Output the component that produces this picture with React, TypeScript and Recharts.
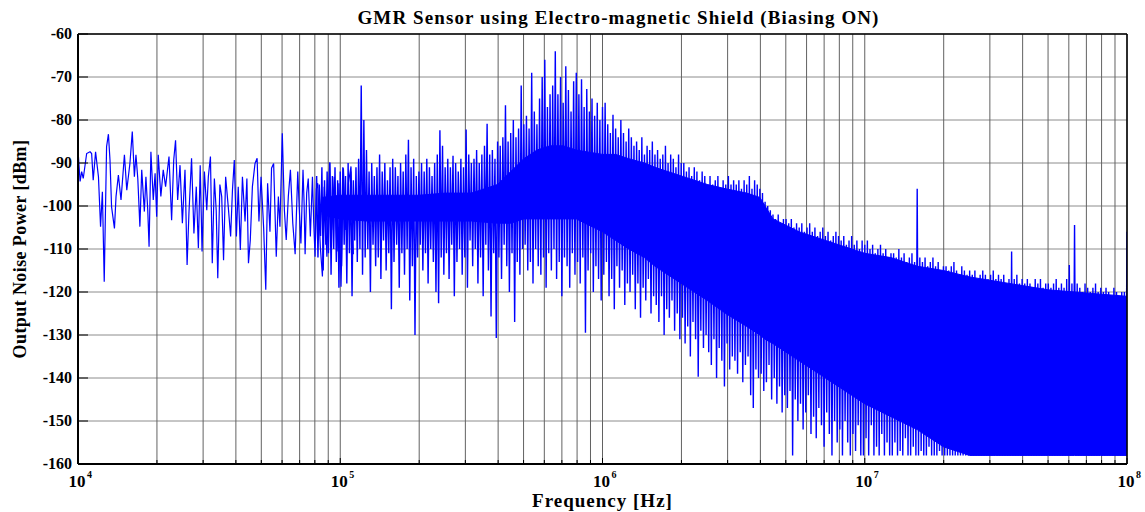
import { Area, CartesianGrid, ComposedChart, Label, Line, XAxis, YAxis } from 'recharts'

// x values are log10(frequency in Hz); the axis prints them as 10^n
const LOW_DECADE = [
  4.0, 4.008, 4.014, 4.02, 4.033, 4.046, 4.052, 4.058, 4.067, 4.078, 4.086, 4.093, 4.1, 4.109, 4.116, 4.122,
  4.128, 4.139, 4.145, 4.154, 4.164, 4.177, 4.186, 4.192, 4.198, 4.207, 4.215, 4.221, 4.228, 4.236, 4.243,
  4.253, 4.259, 4.266, 4.271, 4.278, 4.287, 4.294, 4.3, 4.306, 4.316, 4.325, 4.334, 4.347, 4.357, 4.365,
  4.372, 4.38, 4.389, 4.398, 4.408, 4.416, 4.423, 4.433, 4.442, 4.451, 4.459, 4.466, 4.473, 4.482, 4.491,
  4.497, 4.505, 4.512, 4.52, 4.527, 4.533, 4.541, 4.548, 4.555, 4.563, 4.573, 4.582, 4.589, 4.596, 4.604,
  4.611, 4.619, 4.627, 4.637, 4.644, 4.65, 4.657, 4.665, 4.675, 4.683, 4.69, 4.698, 4.708, 4.716, 4.723,
  4.732, 4.738, 4.746, 4.756, 4.764, 4.77, 4.779, 4.787, 4.794, 4.802, 4.81, 4.819, 4.828, 4.838, 4.844,
  4.85, 4.858, 4.862, 4.866, 4.872, 4.878, 4.886, 4.894, 4.899, 4.904, 4.909, 4.914, 4.919, 4.924, 4.932,
  4.939, 4.944, 4.949, 4.955, 4.96, 4.967, 4.977, 4.988, 4.995, 5.003, 5.012, 5.021, 5.031, 5.041, 5.05,
]
const LOW_DBM = [
  -87, -94.3, -92, -93.6, -87.8, -87.4, -87.8, -94, -87.4, -93.2, -104.8, -96.7, -117.6, -86.2, -83.3, -89.3,
  -100.2, -105.2, -97.8, -92.8, -98.6, -88.1, -96.3, -93.2, -90.1, -82.7, -93.2, -88.1, -93.6, -104.8, -91.6,
  -101.3, -93.2, -101, -109.5, -87.4, -98.6, -92.4, -102.5, -88.1, -97.8, -91.6, -95.5, -88.5, -103.3, -89.3,
  -84.7, -98.6, -90.5, -104, -91.6, -113.7, -101.7, -88.9, -106.4, -95.5, -109.8, -90.5, -110.6, -92, -101,
  -93.2, -88.5, -113.3, -93.6, -101, -116.8, -95, -97.8, -112.6, -93.2, -100.2, -107.1, -96.3, -89.3, -107.1,
  -95.5, -110.2, -93.2, -103.6, -93.6, -113.3, -107.9, -95.5, -90.1, -88.9, -103.6, -93.2, -105.2, -119.5, -94.7,
  -106, -91.2, -90.1, -111.8, -97.8, -104.8, -83.1, -101, -107.9, -97.8, -91.6, -104, -111.2, -92, -101,
  -108.7, -91.6, -99, -111.2, -97, -93.6, -107.1, -93.2, -104, -111.8, -96, -94.7, -102, -109.5, -116.4,
  -95.5, -103, -111.8, -98, -89.9, -105.6, -93.2, -110.6, -94.7, -118.8, -91.2, -105.6, -94.7, -90.8, -111.2,
]

// solid part of the dense spectrum
const CORE_DECADE = [
  4.93, 5.0, 5.1, 5.2, 5.3, 5.4, 5.5, 5.6, 5.65, 5.7, 5.75, 5.8, 5.85, 5.9, 6.0, 6.05, 6.1, 6.16, 6.2, 6.3,
  6.4, 6.47, 6.55, 6.6, 6.62, 6.65, 6.75, 6.85, 6.95, 7.0, 7.1, 7.2, 7.3, 7.4, 7.5, 7.6, 7.7, 7.8, 7.9, 8.0,
]
const CORE_TOP = [
  -98, -97.5, -97.5, -97.5, -97.5, -97, -97, -95, -92, -89, -87, -86, -86, -87, -88, -88, -89, -90, -91, -93,
  -95, -96, -97, -98, -100, -103, -106, -108, -110, -111, -112, -114, -115, -116.5, -117.5, -118.5, -119.5, -120, -120.5, -121,
]
const CORE_BOTTOM = [
  -102, -103, -103.5, -103.5, -103.5, -103.5, -103.5, -104, -104, -103, -103, -103, -103, -103, -106, -108, -110, -112, -114, -118,
  -122, -125, -128, -130, -131, -132, -136, -140, -144, -146, -149, -152, -156, -158, -158, -158, -158, -158, -158, -158,
]

// max / min of each 0.01-decade bin, 10^4.91 .. 10^8 (one row = 0.1 decade)
const NOISE_START = 4.91
const NOISE_STEP = 0.01
const NOISE_HIGH = [
  -93, -95, -91, -94, -92, -89.9, -93, -91, -94, -92,
  -91, -93, -90, -92, -94, -91, -89, -72, -80, -87,
  -92, -90, -93, -91, -88, -92, -90, -94, -91, -89,
  -91, -93, -90, -92, -88, -84.6, -91, -89, -93, -92,
  -90, -92, -89, -91, -93, -90, -88, -82.4, -86, -91,
  -89, -91, -88.3, -90, -92, -89, -91, -82.2, -88, -90,
  -89, -87, -90, -88, -86, -80.9, -88, -87, -89, -85,
  -86, -84, -76.6, -85, -83, -80, -84, -82, -72, -81,
  -79, -82, -69, -78, -81, -75, -70, -66, -77, -74,
  -72, -64, -74, -70, -76, -67.5, -73, -78, -71, -69,
  -74, -70.5, -77, -72.8, -78, -75, -79, -76, -80, -77,
  -76, -81, -83, -78.8, -82, -84, -80, -83, -85, -82,
  -84, -86, -85, -87, -84, -88, -86, -87, -85, -88,
  -87, -89, -88, -86, -90, -88, -89, -91, -88, -90,
  -90, -92, -91, -93, -91, -92, -94, -92, -93, -95,
  -93, -95, -94, -93, -96, -94, -95, -93, -95, -94,
  -95, -94, -96, -94, -95, -93, -96, -94, -95, -96,
  -97, -99, -100, -101, -102, -103, -102, -104, -103, -103,
  -104, -103, -105, -104, -105, -104, -106, -105, -104, -106,
  -105, -107, -106, -105, -107, -106, -108, -107, -106, -107,
  -108, -107, -109, -108, -107, -109, -108, -110, -108, -109,
  -108, -110, -109, -111, -110, -109, -111, -110, -112, -111,
  -111, -112, -110, -112, -111, -113, -112, -111, -113, -96,
  -112, -113, -112, -114, -113, -112, -114, -113, -115, -114,
  -114, -115, -114, -113, -115, -116, -114, -115, -116, -115,
  -116, -115, -117, -116, -115, -116, -117, -116, -115, -117,
  -116, -117, -116, -118, -117, -110.6, -117, -116, -118, -117,
  -118, -117, -118, -119, -117, -118, -117, -119, -118, -118,
  -119, -118, -117, -119, -118, -119, -117, -113.7, -118, -104.4,
  -118, -119, -120, -118, -119, -120, -119, -118, -120, -119,
  -120, -119, -120, -121, -119, -120, -121, -120, -120, -106,
]
const NOISE_LOW = [
  -108, -112, -107, -115, -109, -111, -116, -110, -113, -119,
  -114, -109, -118, -111, -121, -108, -113, -110, -116, -112,
  -110, -120, -109, -114, -112, -117, -108, -115, -111, -124,
  -113, -109, -119, -111, -116, -110, -122, -114, -130, -112,
  -109, -115, -111, -118, -110, -113, -120, -122.6, -112, -116,
  -111, -117, -109, -121, -113, -110, -116, -112, -119, -108,
  -114, -110, -118, -112, -121, -109, -115, -125.7, -111, -130.7,
  -112, -117, -109, -114, -120, -111, -127, -113, -116, -110,
  -109, -115, -113, -118, -110, -114, -116, -112, -119, -111,
  -115, -110, -117, -113, -121, -112, -114, -119, -111, -116,
  -113, -118, -112, -129.5, -115, -111, -120, -114, -117, -122,
  -116, -113, -121, -117, -124, -114, -119, -115, -123, -118,
  -120, -116, -124, -118, -126, -119, -122, -117, -125, -121,
  -123, -127, -121, -130, -124, -126, -122, -129, -125, -131,
  -126, -132, -128, -135, -127, -131, -139.7, -129, -133, -130,
  -134, -137, -131, -140, -133, -136, -142, -132, -138, -135,
  -136, -139, -134, -141, -137, -135, -144, -147, -138, -140,
  -139, -143, -141, -137, -145, -140, -146, -142, -148, -144,
  -147, -143, -158, -145, -150, -146, -152, -148, -144, -153,
  -149, -154, -147, -151, -156, -148, -153, -158, -150, -155,
  -152, -158, -150, -155, -158, -153, -157, -151, -158, -158,
  -154, -158, -151, -158, -156, -158, -153, -158, -155, -158,
  -158, -155, -158, -157, -158, -154, -158, -158, -156, -158,
  -158, -157, -158, -158, -156, -158, -158, -158, -157, -158,
  -158, -158, -158, -158, -158, -158, -158, -158, -158, -158,
  -158, -158, -158, -158, -158, -158, -158, -158, -158, -158,
  -158, -158, -158, -158, -158, -158, -158, -158, -158, -158,
  -158, -158, -158, -158, -158, -158, -158, -158, -158, -158,
  -158, -158, -158, -158, -158, -158, -158, -158, -158, -158,
  -158, -158, -158, -158, -158, -158, -158, -158, -158, -158,
  -158, -158, -158, -158, -158, -158, -158, -158, -158, -158,
]

const DB_TICKS = [-160, -150, -140, -130, -120, -110, -100, -90, -80, -70, -60]
const DECADES = [4, 5, 6, 7]
const LOG_STEPS = [0, 0.30103, 0.47712, 0.60206, 0.69897, 0.77815, 0.8451, 0.90309, 0.95424]
const FREQ_TICKS = [...DECADES.flatMap((d) => LOG_STEPS.map((s) => d + s)), 8]

const lowData = LOW_DECADE.map((f, i) => ({ f, v: LOW_DBM[i] }))
const coreData = CORE_DECADE.map((f, i) => ({ f, band: [CORE_BOTTOM[i], CORE_TOP[i]] }))
const noiseData = NOISE_HIGH.flatMap((hi, i) => [
  { f: NOISE_START + i * NOISE_STEP - NOISE_STEP / 2, v: NOISE_LOW[i] },
  { f: NOISE_START + i * NOISE_STEP, v: hi },
])

const W = 1145
const H = 512
const MARGIN = { top: 33, right: 17, bottom: 8, left: 8 }
const FONT = '"Liberation Serif", "Times New Roman", serif'
const BLUE = '#0000ff'
const X_MARGIN = 8
const Y_MARGIN = 6

const isDecade = (v: number) => Math.abs(v - Math.round(v)) < 1e-6

function NoTick() {
  return <g />
}

function BottomTick({ x, y, payload }: any) {
  const major = isDecade(payload.value)
  const base = y - X_MARGIN
  return (
    <g>
      <line x1={x} x2={x} y1={base} y2={base - (major ? 6 : 4)} stroke="#000" />
      {major && (
        <>
          <text x={x - 1} y={y + 15} textAnchor="middle" fontSize={17} fontWeight="bold" fill="#000">
            10
          </text>
          <text x={x + 9} y={y + 6} textAnchor="start" fontSize={10} fontWeight="bold" fill="#000">
            {Math.round(payload.value)}
          </text>
        </>
      )}
    </g>
  )
}

function TopTick({ x, y, payload }: any) {
  const major = isDecade(payload.value)
  return <line x1={x} x2={x} y1={y} y2={y + (major ? 6 : 4)} stroke="#000" />
}

function LeftTick({ x, y, payload }: any) {
  return (
    <g>
      <line x1={x + Y_MARGIN} x2={x + Y_MARGIN + 10} y1={y} y2={y} stroke="#000" />
      <text x={x} y={y} dy={5} textAnchor="end" fontSize={16} fontWeight="bold" fill="#000">
        {payload.value}
      </text>
    </g>
  )
}

function RightTick({ x, y }: any) {
  return <line x1={x} x2={x - 10} y1={y} y2={y} stroke="#000" />
}

// grid sits in its own chart underneath, so the spectrum always covers it
function GridLayer() {
  return (
    <ComposedChart width={W} height={H} margin={MARGIN}>
      <CartesianGrid vertical={false} stroke="#8c8c8c" />
      <CartesianGrid horizontal={false} stroke="#626262" />
      <XAxis dataKey="f" type="number" domain={[4, 8]} ticks={FREQ_TICKS} interval={0} allowDataOverflow height={40} tickSize={0} tick={<NoTick />} axisLine={false} />
      <XAxis xAxisId="top" orientation="top" type="number" domain={[4, 8]} ticks={FREQ_TICKS} interval={0} height={1} tickSize={0} tick={<NoTick />} axisLine={false} />
      <YAxis type="number" domain={[-160, -60]} ticks={DB_TICKS} interval={0} allowDataOverflow width={70} tickSize={0} tick={<NoTick />} axisLine={false} />
      <YAxis yAxisId="right" orientation="right" type="number" domain={[-160, -60]} ticks={DB_TICKS} interval={0} width={1} tickSize={0} tick={<NoTick />} axisLine={false} />
      <Line data={lowData} dataKey="v" stroke="none" dot={false} isAnimationActive={false} />
    </ComposedChart>
  )
}

function SpectrumLayer() {
  return (
    <ComposedChart width={W} height={H} margin={MARGIN}>
      <XAxis
        dataKey="f"
        type="number"
        domain={[4, 8]}
        ticks={FREQ_TICKS}
        interval={0}
        allowDataOverflow
        height={40}
        tickSize={0}
        tickMargin={X_MARGIN}
        tick={<BottomTick />}
        axisLine={{ stroke: '#000', strokeWidth: 2 }}
      >
        <Label value="Frequency [Hz]" position="center" dy={16} fontSize={19} letterSpacing={1} fontWeight="bold" fill="#000" />
      </XAxis>
      <XAxis
        xAxisId="top"
        orientation="top"
        type="number"
        domain={[4, 8]}
        ticks={FREQ_TICKS}
        interval={0}
        height={1}
        tickSize={0}
        tickMargin={0}
        tick={<TopTick />}
        axisLine={{ stroke: '#000', strokeWidth: 1.5 }}
      >
        <Label
          value="GMR Sensor using Electro-magnetic Shield (Biasing ON)"
          position="center"
          dx={16}
          dy={-16}
          fontSize={19}
          letterSpacing={1.1}
          fontWeight="bold"
          fill="#000"
        />
      </XAxis>
      <YAxis
        type="number"
        domain={[-160, -60]}
        ticks={DB_TICKS}
        interval={0}
        allowDataOverflow
        width={70}
        tickSize={0}
        tickMargin={Y_MARGIN}
        tick={<LeftTick />}
        axisLine={{ stroke: '#000', strokeWidth: 2 }}
      >
        <Label
          value="Output Noise Power [dBm]"
          position="center"
          angle={-90}
          dx={-23}
          fontSize={18}
          letterSpacing={0.4}
          fontWeight="bold"
          fill="#000"
        />
      </YAxis>
      <YAxis
        yAxisId="right"
        orientation="right"
        type="number"
        domain={[-160, -60]}
        ticks={DB_TICKS}
        interval={0}
        width={1}
        tickSize={0}
        tickMargin={0}
        tick={<RightTick />}
        axisLine={{ stroke: '#000', strokeWidth: 1.5 }}
      />
      <Area
        data={coreData}
        dataKey="band"
        type="linear"
        stroke={BLUE}
        strokeWidth={1}
        fill={BLUE}
        fillOpacity={1}
        isAnimationActive={false}
      />
      <Line data={noiseData} dataKey="v" type="linear" stroke={BLUE} strokeWidth={1.4} dot={false} isAnimationActive={false} />
      <Line data={lowData} dataKey="v" type="linear" stroke={BLUE} strokeWidth={1.2} dot={false} isAnimationActive={false} />
    </ComposedChart>
  )
}

export default function App() {
  return (
    <div style={{ position: 'absolute', left: 0, top: 0, width: W, height: H, background: '#fff', fontFamily: FONT }}>
      <div style={{ position: 'absolute', left: 0, top: 0 }}>
        <GridLayer />
      </div>
      <div style={{ position: 'absolute', left: 0, top: 0 }}>
        <SpectrumLayer />
      </div>
    </div>
  )
}
